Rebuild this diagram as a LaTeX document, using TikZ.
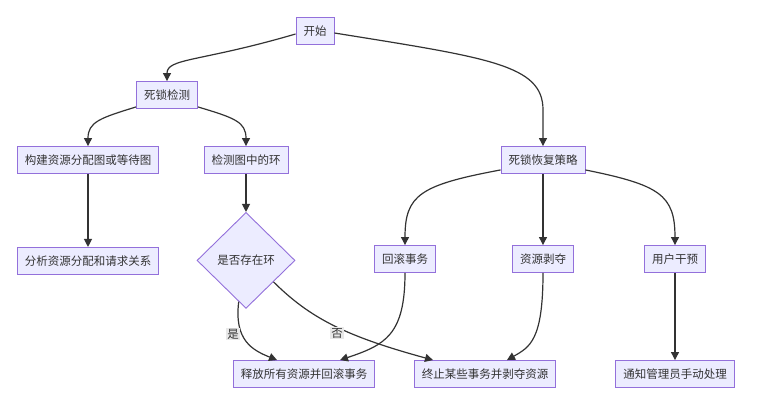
\documentclass[tikz,border=0pt]{standalone}
\usepackage{fontspec}
\setmainfont{Noto Sans CJK SC}
\usetikzlibrary{arrows.meta,positioning,shapes.geometric}
\definecolor{Lilac}{HTML}{9370DB}
\definecolor{Mist}{HTML}{ECECFF}
\definecolor{Ink}{HTML}{333333}
\definecolor{Tag}{HTML}{E8E8E8}
\begin{document}
\begin{tikzpicture}[x=1pt,y=1pt, every node/.style={font=\fontsize{11.5}{13}\selectfont,text=Ink,align=center},
box/.style={draw=Lilac,line width=0.9pt,fill=Mist,minimum height=27pt,inner xsep=7.5pt},
choice/.style={diamond,draw=Lilac,line width=0.9pt,fill=Mist,minimum width=98pt,minimum height=96pt,inner sep=0pt},
tag/.style={fill=Tag,inner sep=1pt},
flow/.style={draw=Ink,line width=1.2pt,->},
>={Triangle[length=8pt,width=8pt]}]
\useasboundingbox (0,0) rectangle (771,-412);
\node[box] (start) at (315,-31) {开始};
\node[box] (detect) at (167,-95) {死锁检测};
\node[box] (build) at (88,-160) {构建资源分配图或等待图};
\node[box] (find) at (246,-160) {检测图中的环};
\node[box,below=73pt of build] (analyse) {分析资源分配和请求关系};
\node[choice,below=38pt of find] (cycle) {是否存在环};
\node[box] (recover) at (543,-160) {死锁恢复策略};
\node[box] (rollback) at (405,-259) {回滚事务};
\node[box] (preempt) at (543,-259) {资源剥夺};
\node[box] (intervene) at (675,-259) {用户干预};
\node[box] (release) at (304,-374) {释放所有资源并回滚事务};
\node[box] (abort) at (485,-374) {终止某些事务并剥夺资源};
\node[box] (notify) at (675,-374) {通知管理员手动处理};
% detection branch
\draw[flow] ([yshift=-3pt]start.west) .. controls (200,-62) and (167,-58) .. (detect.north);
\draw[flow] ([yshift=2pt]detect.south west) .. controls (100,-118) and (88,-122) .. (build.north);
\draw[flow] ([yshift=2pt]detect.south east) .. controls (235,-118) and (246,-122) .. (find.north);
\draw[flow] (build)--(analyse);\draw[flow] (find)--(cycle);
\draw[flow] (cycle.-100) .. controls (234,-340) and (252,-350) .. ([xshift=-27pt]release.north);
\draw[flow] (cycle.-38) .. controls (310,-318) and (345,-336) .. ([xshift=-52pt]abort.north);
% recovery branch
\draw[flow] ([yshift=-2pt]start.east) .. controls (490,-58) and (543,-65) .. (543,-110) -- (recover.north);
\draw[flow] ([yshift=4pt]recover.south west) .. controls (420,-185) and (405,-195) .. (rollback.north);
\draw[flow] ([yshift=4pt]recover.south east) .. controls (660,-185) and (675,-195) .. (intervene.north);
\draw[flow] (recover)--(preempt);\draw[flow] (intervene)--(notify);
\draw[flow] (rollback.south) .. controls (405,-335) and (385,-345) .. ([xshift=36pt]release.north);
\draw[flow] (preempt.south) .. controls (543,-340) and (530,-347) .. ([xshift=22pt]abort.north);
\node[tag] (yes) at (233,-334) {是};
\node[tag] (no) at (337,-333) {否};
\end{tikzpicture}
\end{document}
